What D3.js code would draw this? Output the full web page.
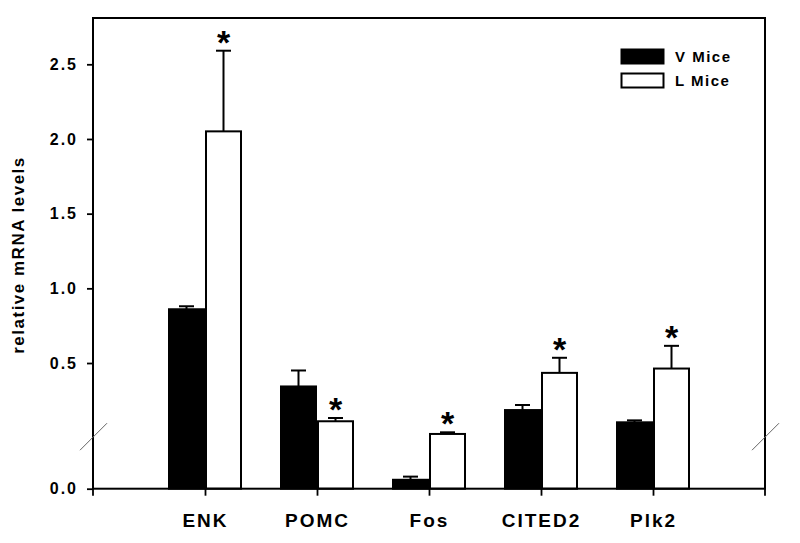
<!DOCTYPE html>
<html><head><meta charset="utf-8">
<script src="https://cdn.jsdelivr.net/npm/d3@7"></script>
<style>
html,body{margin:0;padding:0;background:#fff;}
text{font-family:"Liberation Sans",Arial,sans-serif;font-weight:bold;fill:#000;}
</style></head>
<body>
<svg id="chart" width="800" height="543"></svg>
<script>
const categories = ["ENK", "POMC", "Fos", "CITED2", "Plk2"];
const seriesNames = ["V Mice", "L Mice"];
const vMice = [0.860, 0.343, 0.0017, 0.185, 0.103];
const vMiceErr = [0.020, 0.107, 0.0006, 0.034, 0.013];
const lMice = [2.051, 0.110, 0.025, 0.434, 0.463];
const lMiceErr = [0.540, 0.022, 0.011, 0.101, 0.152];
const lSignificant = [true, true, true, true, true];
const yTickValues = [0.0, 0.5, 1.0, 1.5, 2.0, 2.5];
const breakValue = 0.01;
const yMax = 2.81;

(function () {
const svg = d3.select("#chart");
const mLeft = 93, mRight = 765, mTop = 18, mBottom = 488.7, breakY = 436.2;

const x = d3.scalePoint().domain(categories).range([mLeft, mRight]).padding(1);
const y = d3.scaleLinear().domain([0, breakValue, yMax]).range([mBottom, breakY, mTop]);
const barW = 37;

// y axis
const yAxis = d3.axisLeft(y).tickValues(yTickValues).tickFormat(d3.format(".1f")).tickSize(6).tickPadding(9);
const gy = svg.append("g").attr("transform", `translate(${mLeft},0)`).call(yAxis);
gy.select(".domain").remove();
gy.selectAll(".tick line").attr("stroke", "#000").attr("stroke-width", 1.8);
gy.selectAll(".tick text").style("font-size", "16px").style("letter-spacing", "2px").attr("fill", "#000");

// x axis
const xAxis = d3.axisBottom(x).tickSize(7).tickPadding(18);
const gx = svg.append("g").attr("transform", `translate(0,${mBottom})`).call(xAxis);
gx.select(".domain").remove();
gx.selectAll(".tick line").attr("stroke", "#000").attr("stroke-width", 1.8);
gx.selectAll(".tick text").style("font-size", "19px").style("letter-spacing", "2px").attr("fill", "#000");
x.range().forEach(px => {
  svg.append("line").attr("x1", px).attr("x2", px).attr("y1", mBottom).attr("y2", mBottom + 7)
    .attr("stroke", "#000").attr("stroke-width", 1.8);
});

// bars
const data = categories.map((c, i) => ({c, v: vMice[i], ve: vMiceErr[i], l: lMice[i], le: lMiceErr[i], sig: lSignificant[i]}));
const groups = [
  {key: "v", err: "ve", fill: "#000", dx: -barW},
  {key: "l", err: "le", fill: "#fff", dx: 0}
];
groups.forEach(g => {
  svg.selectAll(null).data(data).enter().append("line")
    .attr("x1", d => x(d.c) + g.dx + barW / 2).attr("x2", d => x(d.c) + g.dx + barW / 2)
    .attr("y1", d => y(d[g.key])).attr("y2", d => y(d[g.key] + d[g.err]))
    .attr("stroke", "#000").attr("stroke-width", 2);
  svg.selectAll(null).data(data).enter().append("line")
    .attr("x1", d => x(d.c) + g.dx + barW / 2 - 7.5).attr("x2", d => x(d.c) + g.dx + barW / 2 + 7.5)
    .attr("y1", d => y(d[g.key] + d[g.err])).attr("y2", d => y(d[g.key] + d[g.err]))
    .attr("stroke", "#000").attr("stroke-width", 2);
  svg.selectAll(null).data(data).enter().append("rect")
    .attr("x", d => x(d.c) + g.dx + 1).attr("width", barW - 2)
    .attr("y", d => y(d[g.key])).attr("height", d => y(0) - y(d[g.key]))
    .attr("fill", g.fill).attr("stroke", "#000").attr("stroke-width", 2);
});

// asterisks
svg.selectAll(null).data(data.filter(d => d.sig)).enter().append("text")
  .attr("x", d => x(d.c) + barW / 2).attr("y", d => y(d.l + d.le) + 3)
  .attr("text-anchor", "middle").style("font-size", "34px").text("*");

// frame
svg.append("rect").attr("x", mLeft).attr("y", mTop).attr("width", mRight - mLeft).attr("height", mBottom - mTop)
  .attr("fill", "none").attr("stroke", "#000").attr("stroke-width", 2);

// axis break marks
[mLeft, mRight].forEach(px => {
  svg.append("line").attr("x1", px - 13).attr("y1", breakY + 14).attr("x2", px + 14).attr("y2", breakY - 13)
    .attr("stroke", "#666").attr("stroke-width", 1);
});

// y label
svg.append("text").attr("transform", `translate(24,255) rotate(-90)`).attr("text-anchor", "middle")
  .style("font-size", "17px").style("letter-spacing", "1.5px").text("relative mRNA levels");

// legend
const legend = svg.append("g");
seriesNames.forEach((n, i) => {
  legend.append("rect").attr("x", 621.5).attr("y", 49.5 + i * 24).attr("width", 42).attr("height", 14)
    .attr("fill", i === 0 ? "#000" : "#fff").attr("stroke", "#000").attr("stroke-width", 2);
  legend.append("text").attr("x", 675).attr("y", 62 + i * 24).style("font-size", "15px")
    .style("letter-spacing", "1.5px").text(n);
});
})();
</script>
</body></html>
